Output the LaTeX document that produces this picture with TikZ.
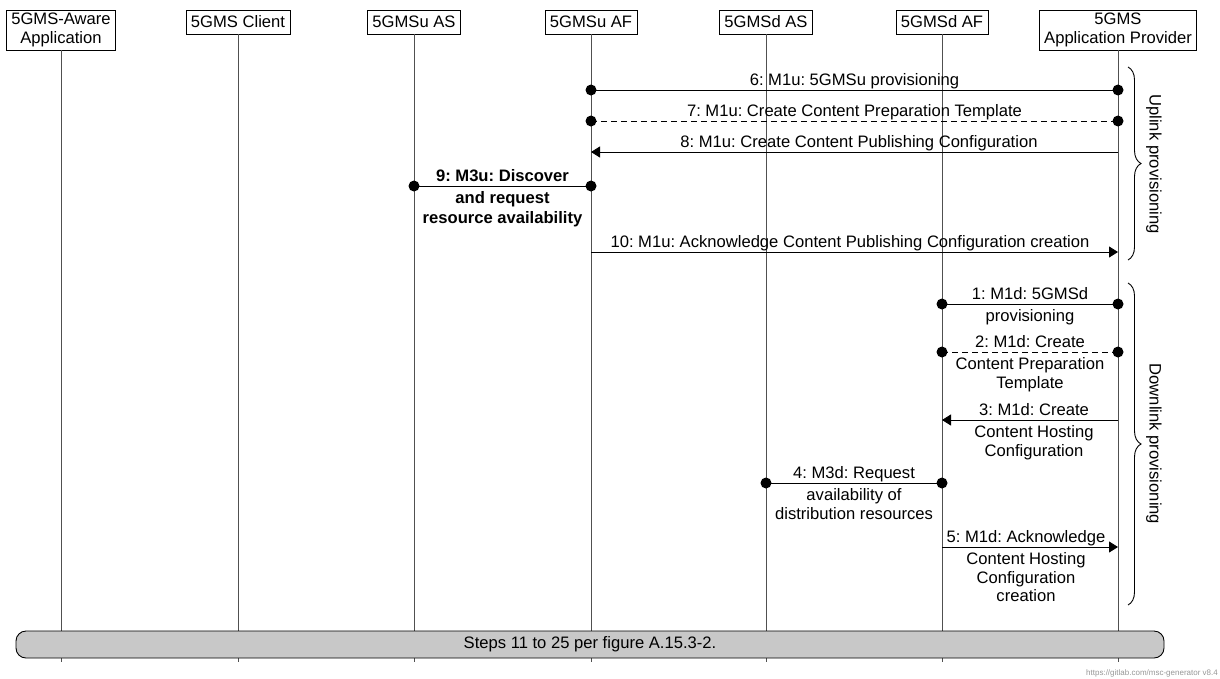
\documentclass[tikz,border=0pt]{standalone}
\usepackage{fontspec}
\setmainfont{Liberation Sans}
\usetikzlibrary{arrows.meta,decorations.pathreplacing}
\definecolor{barfill}{RGB}{200,200,200}
\definecolor{lifegray}{RGB}{80,80,80}
\definecolor{footgray}{RGB}{150,150,150}
\frenchspacing
\begin{document}
\begin{tikzpicture}[x=1pt,y=-1pt,
  font=\fontsize{16.6}{18.8}\selectfont,
  entity/.style={draw, line width=0.9pt, fill=white, align=center, anchor=center, inner xsep=5pt, inner ysep=0pt},
  oneline/.style={entity, minimum height=24pt},
  twoline/.style={entity, minimum height=40pt},
  lifeline/.style={draw=lifegray, line width=0.9pt},
  msg/.style={draw=black, line width=0.9pt},
  dashmsg/.style={msg, dash pattern=on 6pt off 4pt},
  dotend/.style={fill=black, circle, inner sep=0pt, minimum size=11pt},
  arr/.style={-{Triangle[length=9pt,width=11pt]}},
  lblabove/.style={anchor=base, inner sep=0pt},
  lblbelow/.style={anchor=north, align=center, inner sep=1.5pt},
  boldlbl/.style={font=\fontsize{16.6}{20}\selectfont\bfseries},
  bracestyle/.style={draw=black, line width=0.9pt, decorate, decoration={brace, amplitude=13pt}},
  sidelabel/.style={rotate=-90, anchor=center},
]
\useasboundingbox (0,0) rectangle (1220,678);

% entities (tops at y=10)
\node[twoline] (app) at (61,30) {5GMS-Aware\\Application};
\node[oneline] (cli) at (238,22) {5GMS Client};
\node[oneline] (uas) at (414,22) {5GMSu AS};
\node[oneline] (uaf) at (591,22) {5GMSu AF};
\node[oneline] (das) at (766,22) {5GMSd AS};
\node[oneline] (daf) at (942,22) {5GMSd AF};
\node[twoline] (prov) at (1118,30) {5GMS\\Application Provider};

% lifeline ends
\foreach \n/\x in {app/61,cli/238,uas/414,uaf/591,das/766,daf/942,prov/1118}{
  \coordinate (\n-end) at (\x,662);
  \draw[lifeline] (\n.south) -- (\n-end);
}

% message end points
\foreach \n/\x in {uas/414,uaf/591,das/766,daf/942,prov/1118}{
  \foreach \y in {90,121,152,186,252,304,352,420,483,547}{
    \coordinate (\n-\y) at (\x,\y);
  }
}

% 6
\draw[msg] (uaf-90) -- (prov-90);
\node[dotend] at (uaf-90) {}; \node[dotend] at (prov-90) {};
\node[lblabove] (l6) at (854.5,85.5) {6: M1u: 5GMSu provisioning};
% 7
\draw[dashmsg] (uaf-121) -- (prov-121);
\node[dotend] at (uaf-121) {}; \node[dotend] at (prov-121) {};
\node[lblabove] (l7) at (854.5,116.5) {7: M1u: Create Content Preparation Template};
% 8
\draw[msg,arr] (prov-152) -- (uaf-152);
\node[lblabove] (l8) at (859,147.5) {8: M1u: Create Content Publishing Configuration};
% 9
\draw[msg] (uas-186) -- (uaf-186);
\node[dotend] at (uas-186) {}; \node[dotend] at (uaf-186) {};
\node[lblabove,boldlbl] (l9a) at (502.5,181) {9: M3u: Discover};
\node[lblbelow,boldlbl] (l9b) at (502.5,189.5) {and request\\resource availability};
% 10
\draw[msg,arr] (uaf-252) -- (prov-252);
\node[lblabove] (l10) at (850,247.5) {10: M1u: Acknowledge Content Publishing Configuration creation};

% 1
\draw[msg] (daf-304) -- (prov-304);
\node[dotend] at (daf-304) {}; \node[dotend] at (prov-304) {};
\node[lblabove] (l1a) at (1030,299.5) {1: M1d: 5GMSd};
\node[lblbelow] (l1b) at (1030,307.5) {provisioning};
% 2
\draw[dashmsg] (daf-352) -- (prov-352);
\node[dotend] at (daf-352) {}; \node[dotend] at (prov-352) {};
\node[lblabove] (l2a) at (1030,347.5) {2: M1d: Create};
\node[lblbelow] (l2b) at (1030,355.5) {Content Preparation\\Template};
% 3
\draw[msg,arr] (prov-420) -- (daf-420);
\node[lblabove] (l3a) at (1034,415.5) {3: M1d: Create};
\node[lblbelow] (l3b) at (1034,423.5) {Content Hosting\\Configuration};
% 4
\draw[msg] (das-483) -- (daf-483);
\node[dotend] at (das-483) {}; \node[dotend] at (daf-483) {};
\node[lblabove] (l4a) at (854,478.5) {4: M3d: Request};
\node[lblbelow] (l4b) at (854,486.5) {availability of\\distribution resources};
% 5
\draw[msg,arr] (daf-547) -- (prov-547);
\node[lblabove] (l5a) at (1026,542.5) {5: M1d: Acknowledge};
\node[lblbelow] (l5b) at (1026,550.5) {Content Hosting\\Configuration\\creation};

% braces
\coordinate (ub1) at (1128,67);
\coordinate (ub2) at (1128,260);
\draw[bracestyle] (ub1) -- (ub2);
\node[sidelabel] (uplbl) at (1154,164) {Uplink provisioning};
\coordinate (db1) at (1128,283);
\coordinate (db2) at (1128,605);
\draw[bracestyle] (db1) -- (db2);
\node[sidelabel] (dnlbl) at (1154,444) {Downlink provisioning};

% bar
\node[draw=black, line width=0.9pt, fill=barfill, rounded corners=10pt,
      minimum width=1148pt, minimum height=27pt, inner sep=0pt] (steps) at (590,644.5)
      {Steps 11 to 25 per figure A.15.3-2.};

% footer
\node[anchor=base east, inner sep=0pt, text=footgray, font=\fontsize{8}{10}\selectfont] (foot) at (1218,675)
  {https://gitlab.com/msc-generator v8.4};
\end{tikzpicture}
\end{document}
